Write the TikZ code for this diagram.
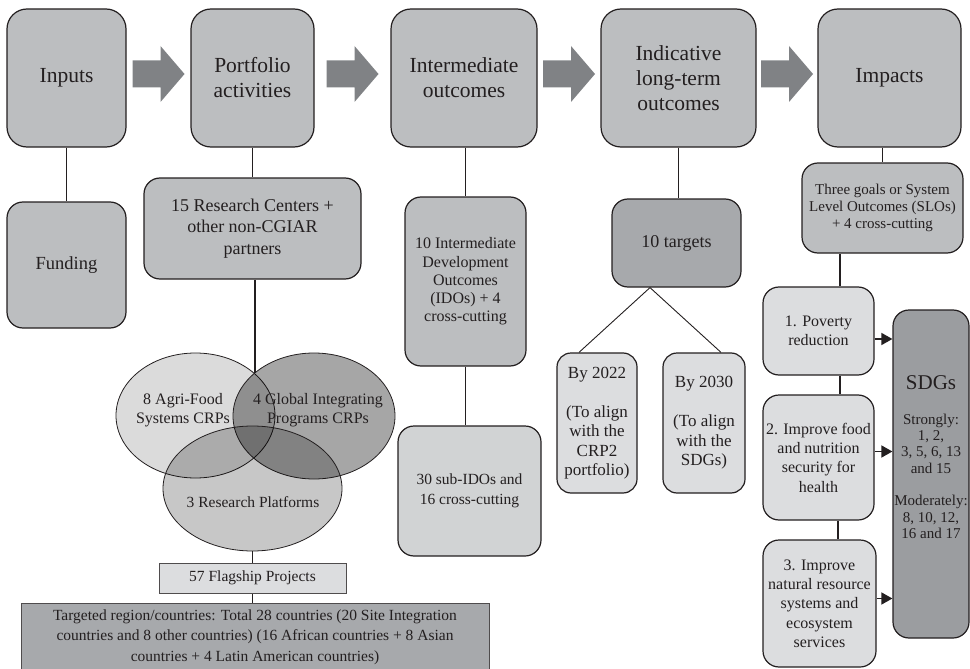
\documentclass[tikz,border=0pt]{standalone}
\usepackage{fontspec}
\setmainfont{Liberation Serif}
\usepackage{xcolor}
\usetikzlibrary{arrows.meta,positioning,calc,shapes.geometric}

\definecolor{ink}{RGB}{35,31,32}
\definecolor{boxmid}{RGB}{188,190,192}
\definecolor{boxlight}{RGB}{220,221,223}
\definecolor{boxpale}{RGB}{209,211,212}
\definecolor{boxdark}{RGB}{167,169,172}
\definecolor{boxsdg}{RGB}{155,157,160}
\definecolor{arrowgray}{RGB}{128,130,133}

\begin{document}
\begin{tikzpicture}[x=1pt,y=-1pt,
	box/.style={draw=ink,line width=1.2pt,rounded corners=16pt,align=center,text=ink,inner sep=0pt},
	stage/.style={box,fill=boxmid,rounded corners=20pt,minimum height=138pt,font=\fontsize{21.5}{25}\selectfont},
	venn/.style={ellipse,draw=ink,line width=0.8pt,fill=black,inner sep=0pt},
	venntext/.style={align=center,text=ink,font=\fontsize{16}{19.3}\selectfont},
	link/.style={draw=ink,line width=1.5pt},
	]
		
		\useasboundingbox (0,0) rectangle (970,669);
		
		\node[stage,minimum width=119pt] (inp)
		at (66.5,78)
		{Inputs};
		
		\node[stage,minimum width=123pt] (port)
		at (252.5,78)
		{Portfolio\\activities};
		
		\node[stage,minimum width=146pt] (inter)
		at (464,78)
		{Intermediate\\outcomes};
		
		\node[stage,minimum width=155pt] (indic)
		at (678.5,78)
		{Indicative\\long-term\\outcomes};
		
		\node[stage,minimum width=143pt] (imp)
		at (889.5,78)
		{Impacts};
		
		\foreach \a/\b in {inp/port,port/inter,inter/indic,indic/imp}
		\fill[arrowgray]
		($(\a.east)!0.5!(\b.west)+(-26,-17.5)$) -- ++(28,0) -- ++(0,-14.5) -- ++(24,28)
		-- ++(-24,28) -- ++(0,-14.5) -- ++(-28,0) -- cycle;
		
		\node[box,fill=boxmid,minimum width=119pt,minimum height=126pt,font=\fontsize{18.5}{22}\selectfont] (fund)
		at (66.5,265)
		{Funding};
		
		\node[box,fill=boxmid,minimum width=217pt,minimum height=101pt,font=\fontsize{18}{21.7}\selectfont] (ctr)
		at (252.5,228.5)
		{15 Research Centers +\\other non-CGIAR\\partners};
		
		\node[box,fill=boxmid,minimum width=121pt,minimum height=169pt,font=\fontsize{16}{18.3}\selectfont] (ido)
		at (465.5,281.5)
		{10 Intermediate\\Development\\Outcomes\\(IDOs) + 4\\cross-cutting};
		
		\node[box,fill=boxpale,minimum width=143pt,minimum height=130pt,font=\fontsize{15.5}{20}\selectfont] (subido)
		at (469.5,491)
		{30 sub-IDOs and\\16 cross-cutting};
		
		\node[box,fill=boxdark,minimum width=129pt,minimum height=88pt,font=\fontsize{18}{21}\selectfont] (tgt)
		at (676.5,243)
		{10 targets};
		
		\node[box,fill=boxlight,rounded corners=14pt,minimum width=80pt,minimum height=140pt,font=\fontsize{17}{19.5}\selectfont] (by22)
		at (597,423)
		{By 2022\\[19.5pt](To align\\with the\\CRP2\\portfolio)};
		
		\node[box,fill=boxlight,rounded corners=14pt,minimum width=82pt,minimum height=140pt,font=\fontsize{17}{19.5}\selectfont] (by30)
		at (704,423)
		{By 2030\\[19.5pt](To align\\with the\\SDGs)};
		
		\node[box,fill=boxmid,minimum width=161pt,minimum height=90pt,font=\fontsize{15}{16.8}\selectfont] (slo)
		at (882.5,208)
		{Three goals or System\\Level Outcomes (SLOs)\\+ 4 cross-cutting};
		
		\node[box,fill=boxlight,minimum width=111pt,minimum height=88pt,font=\fontsize{16}{19.3}\selectfont] (pov)
		at (818.5,331)
		{1. Poverty\\reduction};
		
		\node[box,fill=boxlight,minimum width=111pt,minimum height=125pt,font=\fontsize{16}{19.3}\selectfont] (food)
		at (818.5,457.5)
		{2. Improve food\\and nutrition\\security for\\health};
		
		\node[box,fill=boxlight,minimum width=113pt,minimum height=127pt,font=\fontsize{16}{19.3}\selectfont] (nat)
		at (819.5,603.5)
		{3. Improve\\natural resource\\systems and\\ecosystem\\services};
		
		\node[box,fill=boxsdg,minimum width=76pt,minimum height=328pt] (sdg)
		at (931,474)
		{};
		
		\node[align=center,text=ink,font=\fontsize{15}{16.3}\selectfont] (sdgtxt)
		at (931,457)
		{{\fontsize{21}{24}\selectfont SDGs}\\[18.5pt]Strongly:\\1, 2,\\3, 5, 6, 13\\and 15\\[16.3pt]Moderately:\\8, 10, 12,\\16 and 17};
		
		\node[venn,fill opacity=0.14,minimum width=159pt,minimum height=125pt] (agri)
		at (195.5,415.5)
		{};
		
		\node[venn,fill opacity=0.35,minimum width=162pt,minimum height=126pt] (gip)
		at (314,416)
		{};
		
		\node[venn,fill opacity=0.22,minimum width=179pt,minimum height=125pt] (plat)
		at (252.5,488.5)
		{};
		
		\node[venntext] (agritxt)
		at (183,410)
		{8 Agri-Food\\Systems CRPs};
		
		\node[venntext] (giptxt)
		at (318,410)
		{4 Global Integrating\\Programs CRPs};
		
		\node[venntext,font=\fontsize{15.5}{18}\selectfont] (plattxt)
		at (253,502)
		{3 Research Platforms};
		
		\coordinate (vtop) at (255,373);
		
		\node[box,fill=boxlight,draw=ink!80,line width=1pt,rounded corners=0pt,minimum width=187pt,minimum height=30pt,font=\fontsize{15.5}{18}\selectfont] (flag)
		at (252.5,578)
		{57 Flagship Projects};
		
		\node[box,fill=boxdark,draw=ink!80,line width=1pt,rounded corners=0pt,minimum width=468pt,minimum height=68pt,font=\fontsize{15.5}{20.5}\selectfont] (reg)
		at (255,637)
		{Targeted region/countries: Total 28 countries (20 Site Integration\\countries and 8 other countries) (16 African countries + 8 Asian\\countries + 4 Latin American countries)};
		
		\draw[link] (inp.south) -- (fund.north);
		
		\draw[link] (port.south) -- (ctr.north);
		
		\draw[link] (vtop |- ctr.south) -- (vtop);
		
		\draw[link] (plat.south) -- (flag.north);
		
		\draw[link] (flag.south) -- (flag.south |- reg.north);
		
		\draw[link] (ido.north |- inter.south) -- (ido.north);
		
		\draw[link] (ido.south) -- (ido.south |- subido.north);
		
		\draw[link] (indic.south) -- (indic.south |- tgt.north);
		
		\coordinate (fork) at ([xshift=-26.5pt]tgt.south);
		
		\draw[ink,line width=0.9pt] (fork) -- ([xshift=-18pt]by22.north);
		
		\draw[ink,line width=0.9pt] (fork) -- ([xshift=17pt]by30.north);
		
		\draw[link] (slo.north |- imp.south) -- (slo.north);
		
		\draw[link] ([xshift=21.5pt]pov.north) -- ([xshift=21.5pt]pov.north |- slo.south);
		
		\draw[link] ([xshift=21.5pt]pov.south) -- ([xshift=21.5pt]pov.south |- food.north);
		
		\draw[link] ([xshift=19.5pt]food.south) -- ([xshift=19.5pt]food.south |- nat.north);
		
		\foreach \n/\s in {pov/-8pt,food/6pt,nat/5pt}
		\draw[link,-{Triangle[length=11pt,width=12pt]}]
		([yshift=\s]\n.east) -- ([yshift=\s]\n.east -| sdg.west);
		
	\end{tikzpicture}
\end{document}
